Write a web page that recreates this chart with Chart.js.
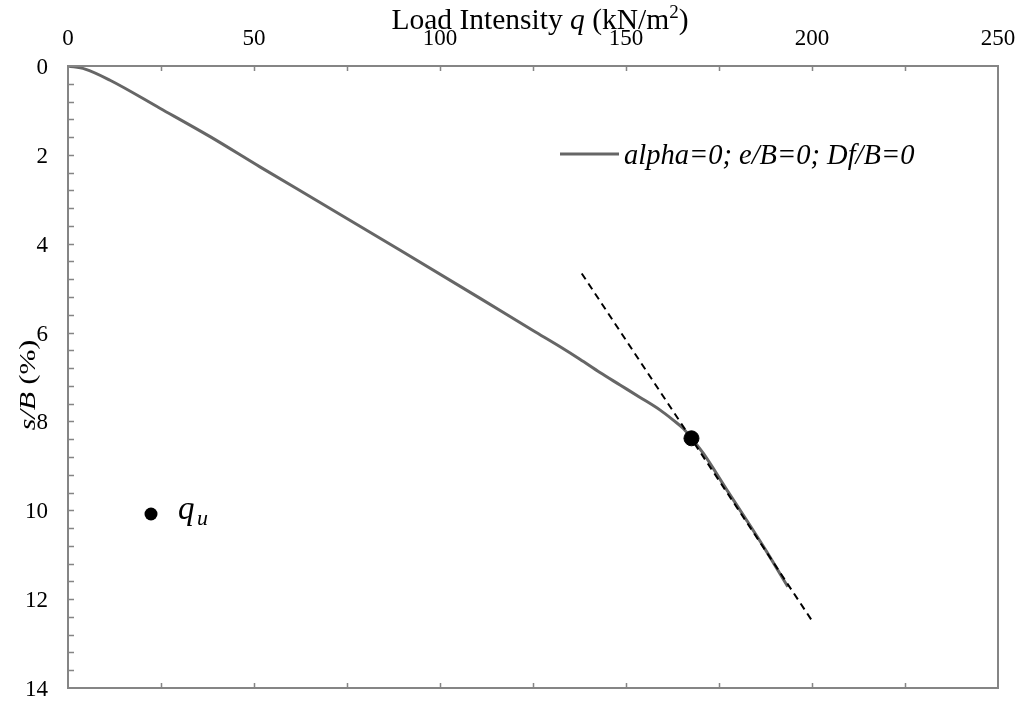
<!DOCTYPE html>
<html>
<head>
<meta charset="utf-8">
<title>Load intensity vs settlement</title>
<script src="https://cdn.jsdelivr.net/npm/chart.js@4.4.1/dist/chart.umd.min.js"></script>
<style>
  html, body { margin: 0; padding: 0; background: #fff; }
  #wrap { width: 1023px; height: 702px; }
</style>
</head>
<body>
<div id="wrap"><canvas id="loadChart"></canvas></div>
<script>
// load-settlement curve
const loadQ      = [0, 4.6, 11.3, 24.7, 38.2, 51.6, 67.3, 89.2, 110.8, 125.1, 132.3, 137.6, 143.0, 148.4, 153.8, 159.1, 162.7, 165.4, 167.6, 170.8, 177.1, 182.4, 187.8, 193.5];
const settlement = [0, 0.07, 0.32, 0.95, 1.59, 2.27, 3.05, 4.14, 5.23, 5.96, 6.32, 6.60, 6.90, 7.18, 7.46, 7.74, 7.97, 8.16, 8.38, 8.72, 9.54, 10.22, 10.93, 11.72];

// tangent used to pick the ultimate load
const tangentQ = [138.1, 200.2];
const tangentS = [4.67, 12.51];

// ultimate bearing point q_u
const ultimateQ = [167.6];
const ultimateS = [8.38];

const seriesLabel = 'alpha=0; e/B=0; Df/B=0';
const xTickValues = [0, 50, 100, 150, 200, 250];
const yTickValues = [0, 2, 4, 6, 8, 10, 12, 14];

const SERIF = "'Liberation Serif', 'Times New Roman', serif";
const AXIS_GREY = '#858585';
const CURVE_GREY = '#666666';

function toPoints(xs, ys) {
  return xs.map((x, i) => ({ x: x, y: ys[i] }));
}

// frame, inward tick marks, tick labels, titles and the two legend entries
const framePlugin = {
  id: 'frame',
  afterDraw(chart) {
    const { ctx, chartArea: a, scales: { x, y } } = chart;
    ctx.save();
    ctx.strokeStyle = AXIS_GREY;
    ctx.lineWidth = 2;
    ctx.strokeRect(a.left, a.top, a.right - a.left, a.bottom - a.top);

    ctx.lineWidth = 1.5;
    ctx.beginPath();
    for (let v = 25; v < 250; v += 25) {
      const px = Math.round(x.getPixelForValue(v)) + 0.5;
      ctx.moveTo(px, a.top); ctx.lineTo(px, a.top + 5);
      ctx.moveTo(px, a.bottom); ctx.lineTo(px, a.bottom - 5);
    }
    for (let i = 1; i < 35; i++) {
      const py = Math.round(y.getPixelForValue(i * 0.4)) + 0.5;
      ctx.moveTo(a.left, py); ctx.lineTo(a.left + 6, py);
    }
    ctx.stroke();

    ctx.fillStyle = '#000';
    ctx.textBaseline = 'alphabetic';

    // tick labels
    ctx.font = '23px ' + SERIF;
    ctx.textAlign = 'center';
    xTickValues.forEach(v => ctx.fillText(String(v), x.getPixelForValue(v), a.top - 21));
    ctx.textAlign = 'right';
    yTickValues.forEach(v => ctx.fillText(String(v), a.left - 20, y.getPixelForValue(v) + 8));
    ctx.textAlign = 'left';

    // top axis title with italic q and superscript
    const parts = [
      { t: 'Load Intensity ', f: '29.5px ' + SERIF, dy: 0 },
      { t: 'q', f: 'italic 29.5px ' + SERIF, dy: 0 },
      { t: ' (kN/m', f: '29.5px ' + SERIF, dy: 0 },
      { t: '2', f: '19px ' + SERIF, dy: -11 },
      { t: ')', f: '29.5px ' + SERIF, dy: 0 }
    ];
    let total = 0;
    parts.forEach(p => { ctx.font = p.f; p.w = ctx.measureText(p.t).width; total += p.w; });
    let tx = 540 - total / 2;
    parts.forEach(p => { ctx.font = p.f; ctx.fillText(p.t, tx, 29 + p.dy); tx += p.w; });

    // left axis title, rotated
    ctx.save();
    ctx.translate(35, 385);
    ctx.rotate(-Math.PI / 2);
    ctx.scale(1.3, 1);
    const yParts = [
      { t: 's/B', f: 'italic 23px ' + SERIF },
      { t: ' (%)', f: '23px ' + SERIF }
    ];
    let yTotal = 0;
    yParts.forEach(p => { ctx.font = p.f; p.w = ctx.measureText(p.t).width; yTotal += p.w; });
    let ty = -yTotal / 2;
    yParts.forEach(p => { ctx.font = p.f; ctx.fillText(p.t, ty, 0); ty += p.w; });
    ctx.restore();

    // legend: series line
    ctx.strokeStyle = CURVE_GREY;
    ctx.lineWidth = 3;
    ctx.beginPath();
    ctx.moveTo(a.left + 492, a.top + 88);
    ctx.lineTo(a.left + 551, a.top + 88);
    ctx.stroke();
    ctx.font = 'italic 28.5px ' + SERIF;
    ctx.fillText(seriesLabel, a.left + 556, a.top + 98);

    // legend: q_u marker
    ctx.beginPath();
    ctx.arc(a.left + 83, a.top + 448, 6.5, 0, Math.PI * 2);
    ctx.fill();
    ctx.font = 'italic 33px ' + SERIF;
    ctx.fillText('q', a.left + 110, a.top + 453);
    ctx.font = 'italic 22px ' + SERIF;
    ctx.fillText('u', a.left + 129, a.top + 459);
    ctx.restore();
  }
};

new Chart(document.getElementById('loadChart'), {
  type: 'scatter',
  data: {
    datasets: [
      {
        label: 'q_u',
        data: toPoints(ultimateQ, ultimateS),
        backgroundColor: '#000',
        borderColor: '#000',
        pointRadius: 7.5,
        showLine: false
      },
      {
        label: 'tangent',
        data: toPoints(tangentQ, tangentS),
        borderColor: '#000',
        borderWidth: 2,
        borderDash: [7, 5],
        pointRadius: 0,
        showLine: true
      },
      {
        label: seriesLabel,
        data: toPoints(loadQ, settlement),
        borderColor: CURVE_GREY,
        borderWidth: 3,
        pointRadius: 0,
        showLine: true,
        cubicInterpolationMode: 'monotone'
      }
    ]
  },
  options: {
    responsive: true,
    maintainAspectRatio: false,
    animation: false,
    layout: { padding: { top: 66, left: 68, right: 25, bottom: 14 } },
    plugins: {
      legend: { display: false },
      tooltip: { enabled: false }
    },
    scales: {
      x: { type: 'linear', position: 'top', min: 0, max: 250, display: false },
      y: { type: 'linear', reverse: true, min: 0, max: 14, display: false }
    }
  },
  plugins: [framePlugin]
});
</script>
</body>
</html>
